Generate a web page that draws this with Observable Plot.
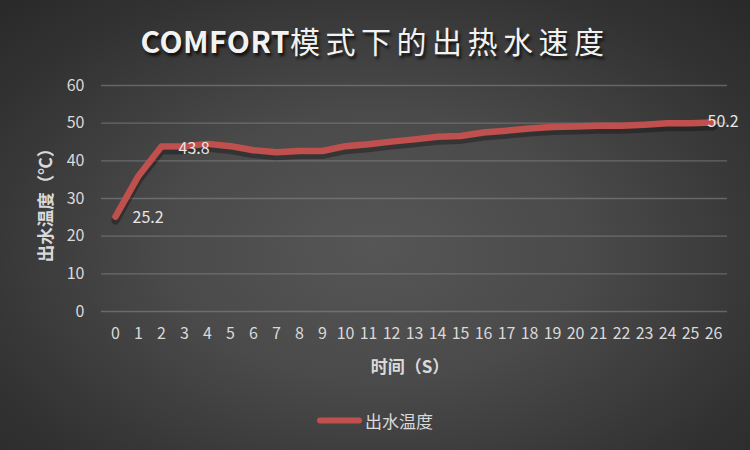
<!DOCTYPE html>
<html>
<head>
<meta charset="utf-8">
<script src="https://cdn.jsdelivr.net/npm/d3@7"></script>
<script src="https://cdn.jsdelivr.net/npm/@observablehq/plot@0.6"></script>
<style>
  html, body { margin: 0; padding: 0; background: #2b2b2b; }
  #chart {
    position: relative; width: 750px; height: 450px; overflow: hidden;
    background: radial-gradient(ellipse 70% 75% at 50% 55%, #565656 0%, #4a4a4a 40%, #333 80%, #2a2a2a 100%);
    font-family: "Noto Sans CJK SC", "Noto Sans", sans-serif;
    color: #d9d9d9;
  }
  #chart svg { position: absolute; left: 0; top: 0; }
  .title {
    position: absolute; left: 0; width: 750px; top: 18px; text-align: center;
    font-size: 30px; color: #f2f2f2; white-space: nowrap;
    text-shadow: 2px 3px 3px rgba(0,0,0,0.75);
  }
  .title b { font-weight: bold; letter-spacing: 0.5px; }
  .title span { letter-spacing: 5.5px; }
  .ytitle {
    position: absolute; left: 44px; top: 201px; transform: translate(-50%, -50%) rotate(-90deg);
    font-size: 17.5px; font-weight: bold; white-space: nowrap; color: #d9d9d9;
  }
  .xtitle {
    position: absolute; left: 410px; top: 365px; transform: translate(-50%, -50%);
    font-size: 17px; font-weight: bold; white-space: nowrap; color: #d9d9d9;
  }
  .legend {
    position: absolute; left: 317px; top: 420px; transform: translateY(-50%);
    display: flex; align-items: center; font-size: 17px; color: #d9d9d9; white-space: nowrap;
  }
  .legend .sw { width: 45px; height: 6px; border-radius: 3px; background: #c0504d; margin-right: 3px; }
</style>
</head>
<body>
<div id="chart">
  <div class="title"><b>COMFORT</b><span>模式下的出热水速度</span></div>
  <div class="ytitle">出水温度（℃）</div>
  <div class="xtitle">时间（S）</div>
  <div class="legend"><div class="sw"></div><div>出水温度</div></div>
</div>
<script>
const times = ["0","1","2","3","4","5","6","7","8","9","10","11","12","13","14","15","16","17","18","19","20","21","22","23","24","25","26"];
const temps = [25.2, 36.0, 43.8, 43.9, 44.5, 43.9, 42.8, 42.3, 42.6, 42.6, 43.9, 44.4, 45.1, 45.7, 46.4, 46.6, 47.5, 48.0, 48.6, 49.0, 49.1, 49.3, 49.3, 49.6, 50.0, 50.0, 50.2];
const yTicks = [0, 10, 20, 30, 40, 50, 60];
const seriesName = "出水温度";

const data = times.map((t, i) => ({time: t, temp: temps[i]}));
const first = [data[0]];
const peak = [data[2]];
const last = [data[data.length - 1]];
const lbl = d => d.temp.toFixed(1);
const textOpts = {x: "time", y: "temp", text: lbl, textAnchor: "start", fill: "#e6e6e6", fontSize: 16};

const plot = Plot.plot({
  width: 750,
  height: 450,
  marginLeft: 101,
  marginRight: 23,
  marginTop: 85,
  marginBottom: 139,
  style: {background: "transparent", color: "#d9d9d9", fontSize: "16px", fontFamily: "'Noto Sans CJK SC', 'Noto Sans', sans-serif"},
  x: {type: "point", domain: times, padding: 0.5, label: null},
  y: {domain: [0, 60], ticks: yTicks, label: null},
  marks: [
    Plot.gridY(yTicks, {stroke: "#8a8a8a", strokeOpacity: 0.55, strokeWidth: 1.3}),
    Plot.axisY(yTicks, {tickSize: 0, tickPadding: 17, fontSize: 16, fill: "#d9d9d9"}),
    Plot.axisX(times, {tickSize: 0, tickPadding: 16, fontSize: 16, fill: "#d9d9d9"}),
    Plot.line(data, {x: "time", y: "temp", stroke: "#000", strokeOpacity: 0.3, strokeWidth: 8, dy: 4}),
    Plot.line(data, {x: "time", y: "temp", stroke: "#c0504d", strokeWidth: 6.5, strokeLinejoin: "round", strokeLinecap: "round"}),
    Plot.text(first, {...textOpts, dx: 17, dy: 1}),
    Plot.text(peak, {...textOpts, dx: 17, dy: 2}),
    Plot.text(last, {...textOpts, dx: -6, dy: -1})
  ]
});
document.getElementById("chart").prepend(plot);
</script>
</body>
</html>
